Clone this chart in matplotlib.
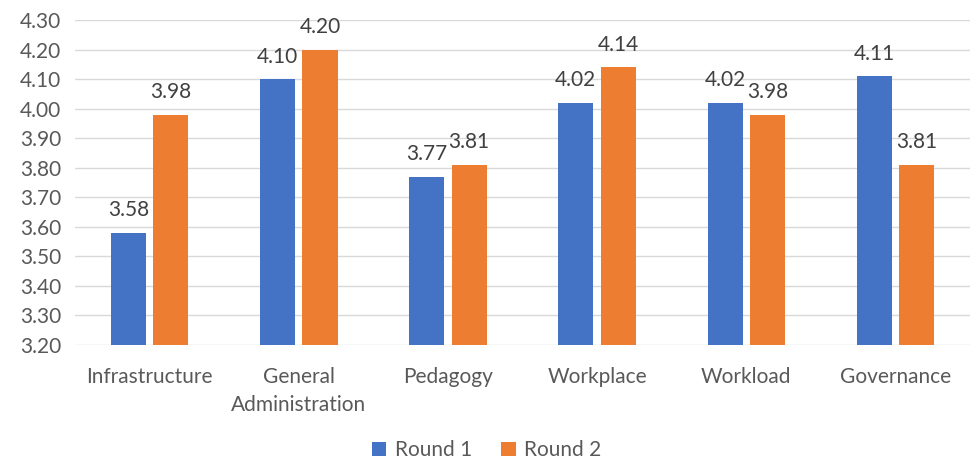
import matplotlib
matplotlib.use("Agg")
import matplotlib.pyplot as plt
import numpy as np

# data
categories = ["Infrastructure", "General\nAdministration", "Pedagogy",
              "Workplace", "Workload", "Governance"]
round1 = [3.58, 4.10, 3.77, 4.02, 4.02, 4.11]
round2 = [3.98, 4.20, 3.81, 4.14, 3.98, 3.81]
yticks = [3.20, 3.30, 3.40, 3.50, 3.60, 3.70, 3.80, 3.90, 4.00, 4.10, 4.20, 4.30]

plt.rcParams['font.family'] = ['Lato', 'DejaVu Sans']
text_col = '#595959'
fs = 15

fig = plt.figure(figsize=(9.73, 4.66), dpi=100)
ax = fig.add_axes([0.077, 0.26, 0.92, 0.697])

x = np.arange(len(categories))
w = 0.235
gap = 0.05
b1 = ax.bar(x - (w + gap) / 2, np.array(round1) - 3.2, w, bottom=3.2,
            color='#4472C4', label='Round 1', zorder=3)
b2 = ax.bar(x + (w + gap) / 2, np.array(round2) - 3.2, w, bottom=3.2,
            color='#ED7D31', label='Round 2', zorder=3)

for bars, vals in ((b1, round1), (b2, round2)):
    for rect, v in zip(bars, vals):
        ax.annotate(f"{v:.2f}", xy=(rect.get_x() + rect.get_width() / 2, v),
                    xytext=(0, 9), textcoords='offset points',
                    ha='center', va='bottom', fontsize=fs, color='#404040')

ax.set_ylim(3.2, 4.3)
ax.set_xlim(-0.5, len(categories) - 0.5)
ax.set_yticks(yticks)
ax.set_yticklabels([f"{t:.2f}" for t in yticks])
ax.set_xticks(x)
ax.set_xticklabels(categories, linespacing=1.5)
ax.tick_params(axis='both', length=0, labelsize=fs, colors=text_col)
ax.tick_params(axis='x', pad=16)
ax.tick_params(axis='y', pad=10)
ax.grid(axis='y', color='#D9D9D9', linewidth=1, zorder=0)
for s in ax.spines.values():
    s.set_visible(False)

fig.legend(loc='lower center', bbox_to_anchor=(0.5, -0.028), ncol=2,
           frameon=False, fontsize=fs, handlelength=0.7, handleheight=0.7,
           columnspacing=1.4, handletextpad=0.4, labelcolor=text_col)

fig.savefig("out.png", dpi=100)
